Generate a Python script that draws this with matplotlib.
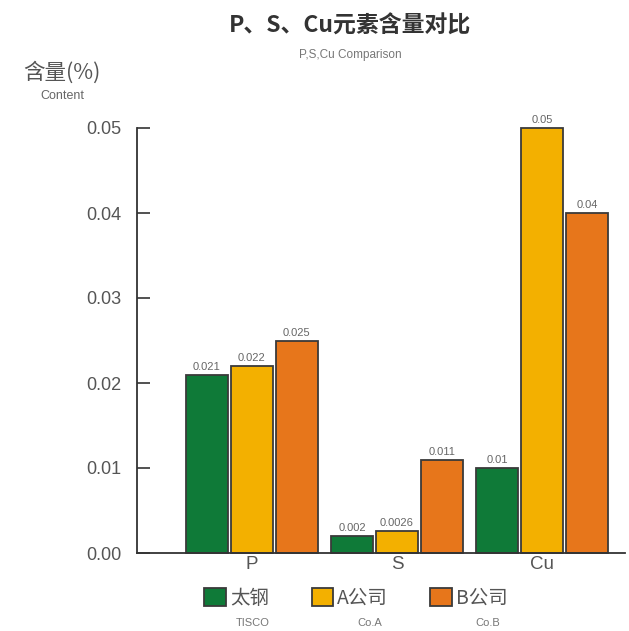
import matplotlib
matplotlib.use("Agg")
import matplotlib.pyplot as plt
import numpy as np

categories = ["P", "S", "Cu"]
series_names = ["太钢", "A公司", "B公司"]
series_en = ["TISCO", "Co.A", "Co.B"]
tisco = [0.021, 0.002, 0.01]
coa = [0.022, 0.0026, 0.05]
cob = [0.025, 0.011, 0.04]
value_labels = [["0.021", "0.002", "0.01"], ["0.022", "0.0026", "0.05"], ["0.025", "0.011", "0.04"]]
yticks = [0.0, 0.01, 0.02, 0.03, 0.04, 0.05]
ytick_labels = ["0.00", "0.01", "0.02", "0.03", "0.04", "0.05"]

colors = ["#0f7a38", "#f3b000", "#e7761b"]
plt.rcParams['font.family'] = ['Noto Sans CJK SC', 'DejaVu Sans']

fig = plt.figure(figsize=(6.29, 6.31), dpi=100)
ax = fig.add_axes([137/629, 1-553/631, (625-137)/629, (553-128)/631])

x = np.arange(len(categories))
w = 0.29
gap = 0.02
series = [tisco, coa, cob]
bars = []
for i, (vals, c) in enumerate(zip(series, colors)):
    pos = x + (i - 1) * (w + gap)
    b = ax.bar(pos, vals, width=w, color=c, edgecolor="#3a3a3a", linewidth=1.3, label=series_names[i],
               clip_on=False)
    bars.append(b)
    for p, v, t in zip(pos, vals, value_labels[i]):
        ax.text(p, v + 0.0003, t, ha="center", va="bottom", fontsize=8, color="#666666",
                family=['Liberation Sans Narrow', 'Liberation Sans'], clip_on=False)

ax.set_xlim(-0.79, 2.57)
ax.set_ylim(0, 0.05)
ax.set_yticks(yticks)
ax.set_yticklabels(ytick_labels, fontsize=13, color="#555555", family=['Liberation Sans'])
ax.set_xticks(x)
ax.set_xticklabels(categories, fontsize=13.5, color="#555555", family=['Liberation Sans'])
ax.tick_params(axis="x", length=0, pad=2)
ax.tick_params(axis="y", direction="in", length=9, width=1.2, color="#333333", pad=11)
for s in ["top", "right"]:
    ax.spines[s].set_visible(False)
ax.spines["left"].set_color("#333333")
ax.spines["bottom"].set_color("#333333")
ax.spines["left"].set_linewidth(1.3)
ax.spines["bottom"].set_linewidth(1.3)

fig.text(350/629, 1-26/631, "P、S、Cu元素含量对比", ha="center", va="center", fontsize=16.5,
         fontweight="bold", color="#333333")
fig.text(350/629, 1-55/631, "P,S,Cu Comparison", ha="center", va="center", fontsize=8.5,
         color="#777777", family=['Liberation Sans Narrow', 'Liberation Sans'])
fig.text(62/629, 1-73/631, "含量(%)", ha="center", va="center", fontsize=15.5, color="#555555")
fig.text(62/629, 1-96/631, "Content", ha="center", va="center", fontsize=9, color="#666666",
         family=['Liberation Sans Narrow', 'Liberation Sans'])

leg = fig.legend(handles=bars, labels=series_names, loc="center", bbox_to_anchor=(356/629, 1-598/631),
                 ncol=3, frameon=False, fontsize=14, handlelength=1.1, handleheight=1.1,
                 handletextpad=0.2, columnspacing=2.2, borderaxespad=0)
for t in leg.get_texts():
    t.set_color("#555555")
for xx, t in zip([253, 370, 488], series_en):
    fig.text(xx/629, 1-623/631, t, ha="center", va="center", fontsize=8, color="#777777",
             family=['Liberation Sans Narrow', 'Liberation Sans'])

fig.savefig("out.png", dpi=100)
